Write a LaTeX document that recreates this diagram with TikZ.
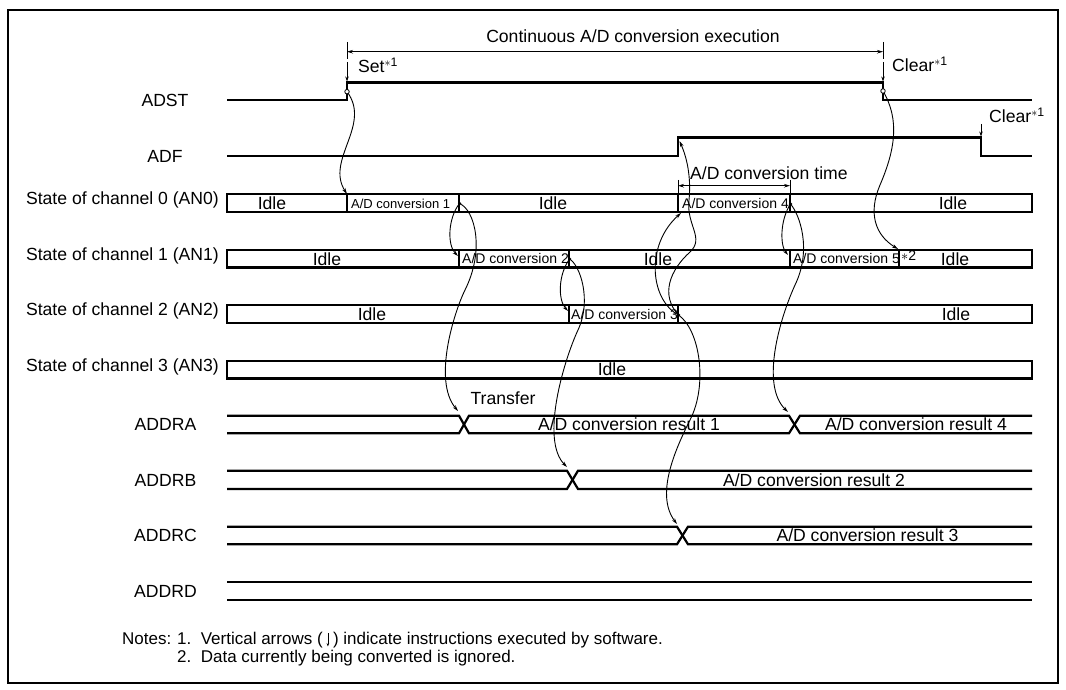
\documentclass[tikz,border=0pt]{standalone}
\usepackage{fontspec}
\setmainfont{Liberation Sans}
\usetikzlibrary{arrows.meta}
\begin{document}
\begin{tikzpicture}[x=1pt,y=-1pt,
  sig/.style={line width=2.4pt,line join=miter},
  bus/.style={line width=2.2pt},
  boxst/.style={line width=2.4pt},
  divst/.style={line width=2.2pt},
  cur/.style={line width=0.9pt,-{Stealth[length=6pt,width=3.6pt]}},
  dimst/.style={line width=0.9pt},
  dimarr/.style={line width=0.9pt,{Stealth[length=6pt,width=3.6pt]}-{Stealth[length=6pt,width=3.6pt]}},
  sw/.style={line width=0.9pt,-{Stealth[length=5pt,width=3.4pt]}},
  lab/.style={font=\fontsize{17.6}{17.6}\selectfont,inner sep=0pt,text height=12.6pt,text depth=0pt},
  sml/.style={font=\fontsize{14}{14}\selectfont,inner sep=0pt,text height=10pt,text depth=0pt},
  note/.style={font=\fontsize{17}{17}\selectfont,inner sep=0pt},
  odot/.style={circle,draw,fill=white,line width=0.8pt,inner sep=0pt,minimum size=4.5pt},
  fdot/.style={circle,fill=black,inner sep=0pt,minimum size=3.5pt},
  ]
\useasboundingbox (0,0) rectangle (1066,690);
\draw[line width=2pt] (8,10) rectangle (1058,683);

% ---------- signal labels
\node[lab] (lADST) at (165,100) {ADST};
\node[lab] (lADF) at (165,156) {ADF};
\node[lab,anchor=east] (lC0) at (219,198) {State of channel 0 (AN0)};
\node[lab,anchor=east] (lC1) at (219,254) {State of channel 1 (AN1)};
\node[lab,anchor=east] (lC2) at (219,309) {State of channel 2 (AN2)};
\node[lab,anchor=east] (lC3) at (219,365) {State of channel 3 (AN3)};
\node[lab] (lA) at (165.5,424.5) {ADDRA};
\node[lab] (lB) at (165.5,480) {ADDRB};
\node[lab] (lC) at (165.5,535.5) {ADDRC};
\node[lab] (lD) at (165.5,591) {ADDRD};

% ---------- ADST / ADF
\draw[sig] (227,100) -- (347,100) -- (347,82.7) -- (883,82.7) -- (883,100) -- (1032,100);
\draw[sig] (227,156) -- (678,156) -- (678,137.7) -- (981,137.7) -- (981,156) -- (1032,156);

% continuous conversion dimension
\draw[dimst] (347,42) -- (347,59);
\draw[dimst] (883,42) -- (883,59);
\draw[dimarr] (347,51.7) -- (883,51.7);
\node[lab] (tcont) at (633,36.7) {Continuous A/D conversion execution};
\draw[sw] (347,62) -- (347,81.5);
\draw[sw] (883,62) -- (883,81.5);
\draw[sw] (981,124) -- (981,136.5);
\node[lab,anchor=west] (tset) at (358,66) {Set\textsuperscript{$\ast$1}};
\node[lab,anchor=west] (tclr1) at (892,65) {Clear\textsuperscript{$\ast$1}};
\node[lab,anchor=west] (tclr2) at (989,116) {Clear\textsuperscript{$\ast$1}};

% ---------- channel boxes
\draw[boxst] (227,194) rectangle (1032,212);
\foreach \x in {347,459,678,790} \draw[divst] (\x,194) -- (\x,212);
\draw[boxst] (227,250) rectangle (1032,267.3);
\foreach \x in {459,569,790} \draw[divst] (\x,250) -- (\x,267.3);
\draw[line width=1.1pt] (899,250) -- (899,267.3);
\draw[boxst] (227,305) rectangle (1032,322.7);
\foreach \x in {569,678} \draw[divst] (\x,305) -- (\x,322.7);
\draw[boxst] (227,361) rectangle (1032,378.3);

\node[lab] (i00) at (272,203) {Idle};
\node[sml,anchor=west,font=\fontsize{13}{13}\selectfont] (cv1) at (351,203) {A/D conversion 1};
\node[lab] (i01) at (553,203) {Idle};
\node[sml,anchor=west] (cv4) at (682,203) {A/D conversion 4};
\node[lab] (i02) at (953,203) {Idle};
\node[lab] (i10) at (327,258.7) {Idle};
\node[sml,anchor=west] (cv2) at (462,258.7) {A/D conversion 2};
\node[lab] (i11) at (658,258.7) {Idle};
\node[sml,anchor=west] (cv5) at (793,258.7) {A/D conversion 5};
\node[sml,anchor=west] (st2) at (901,255) {$\ast$2};
\node[lab] (i12) at (955,258.7) {Idle};
\node[lab] (i20) at (372,314) {Idle};
\node[sml,anchor=west] (cv3) at (571,314) {A/D conversion 3};
\node[lab] (i21) at (956,314) {Idle};
\node[lab] (i30) at (612,369.5) {Idle};

% conversion time dimension
\draw[dimst] (678,180) -- (678,193);
\draw[dimst] (790,180) -- (790,193);
\draw[dimarr] (678,185.7) -- (790,185.7);

% ---------- buses
\draw[bus] (227,415.7) -- (459,415.7) -- (469,433.3) -- (789,433.3) -- (800,415.7) -- (1032,415.7);
\draw[bus] (227,433.3) -- (459,433.3) -- (469,415.7) -- (789,415.7) -- (800,433.3) -- (1032,433.3);
\draw[bus] (227,470.7) -- (567,470.7) -- (578,489) -- (1032,489);
\draw[bus] (227,489) -- (567,489) -- (578,470.7) -- (1032,470.7);
\draw[bus] (227,526.7) -- (677,526.7) -- (688,544.3) -- (1032,544.3);
\draw[bus] (227,544.3) -- (677,544.3) -- (688,526.7) -- (1032,526.7);
\draw[bus] (227,581.7) -- (1032,581.7);
\draw[bus] (227,600) -- (1032,600);

\node[lab] (tr) at (503,398) {Transfer};
\node[lab] (r1) at (629,424.5) {A/D conversion result 1};
\node[lab] (r4) at (916,424.5) {A/D conversion result 4};
\node[lab] (r2) at (814,480) {A/D conversion result 2};
\node[lab] (r3) at (867.5,535.5) {A/D conversion result 3};

% ---------- event coordinates
\coordinate (stR) at (347,91.7);
\coordinate (stF) at (883,91);
\coordinate (c1e) at (459.5,203.5);
\coordinate (c2e) at (569.5,259);
\coordinate (c3e) at (678.5,315);
\coordinate (c4e) at (790.5,204);
\coordinate (c1s) at (347,194);
\coordinate (c2s) at (458,256);
\coordinate (c3s) at (568,311);
\coordinate (c4s) at (681,213);
\coordinate (c5s) at (788,255);
\coordinate (c5e) at (898,249);
\coordinate (adf) at (679.5,141);
\coordinate (xa1) at (458,411);
\coordinate (xb) at (567,467);
\coordinate (xc) at (677,524);
\coordinate (xa4) at (788,412);

% ---------- causal curves
\draw[cur] (stR) .. controls (372,125) and (325,160) .. (c1s);
\draw[cur] (stF) .. controls (900,120) and (895,150) .. (880,185) .. controls (868,213) and (875,235) .. (c5e);
\draw[cur] (c1e) .. controls (448,218) and (447,245) .. (c2s);
\draw[cur] (c1e) .. controls (475,210) and (485,250) .. (465,290) .. controls (455,310) and (432,380) .. (xa1);
\draw[cur] (c2e) .. controls (558,275) and (558,300) .. (c3s);
\draw[cur] (c2e) .. controls (580,265) and (592,300) .. (578,330) .. controls (564,360) and (540,440) .. (xb);
\draw[cur] (c3e) .. controls (650,300) and (645,245) .. (c4s);
\draw[cur] (c3e) .. controls (660,295) and (670,270) .. (690,252) .. controls (705,238) and (686,225) .. (689,200) .. controls (691,180) and (688,160) .. (adf);
\draw[cur] (c3e) .. controls (700,330) and (708,385) .. (690,420) .. controls (675,450) and (655,495) .. (xc);
\draw[cur] (c4e) .. controls (780,220) and (780,245) .. (c5s);
\draw[cur] (c4e) .. controls (800,215) and (812,250) .. (795,285) .. controls (780,318) and (760,385) .. (xa4);

\node[odot] (oR) at (stR) {};
\node[odot] (oF) at (stF) {};
\node[fdot] (d1) at (c1e) {};
\node[fdot] (d2) at (c2e) {};
\node[fdot] (d3) at (c3e) {};
\node[fdot] (d4) at (c4e) {};

\node[lab,anchor=west,fill=white] (tconv) at (690,173) {A/D conversion time};

% ---------- notes
\node[note,anchor=base west] (n0) at (122,644) {Notes:};
\node[note,anchor=base west] (n1a) at (177,644) {1.\ \ Vertical arrows (};
\draw[line width=0.7pt,-{Stealth[length=3.5pt,width=2.6pt]}] ([xshift=5pt,yshift=11pt]n1a.base east) -- ([xshift=5pt,yshift=-2.5pt]n1a.base east);
\node[note,anchor=base west] (n1b) at ([xshift=10pt]n1a.base east) {) indicate instructions executed by software.};
\node[note,anchor=base west] (n2) at (177,662) {2.\ \ Data currently being converted is ignored.};
\end{tikzpicture}
\end{document}
